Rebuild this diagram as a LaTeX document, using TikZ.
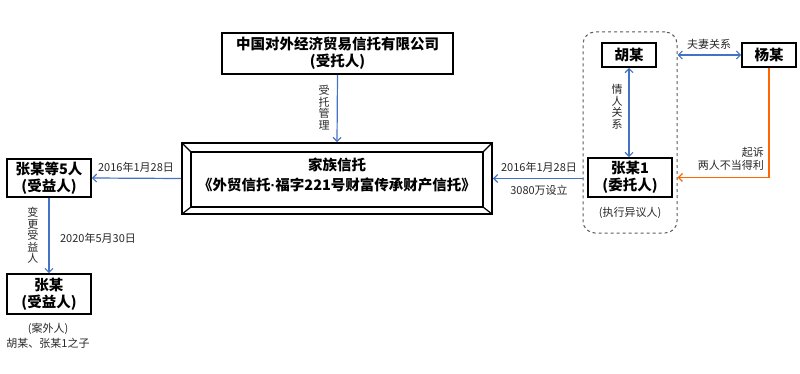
\documentclass[tikz,border=0pt]{standalone}
\usepackage{fontspec}
\setmainfont{Noto Sans CJK SC}
\newfontfamily\latinfont{Liberation Sans}
\usetikzlibrary{arrows.meta}
\definecolor{arrblue}{RGB}{68,114,196}
\definecolor{arrorange}{RGB}{255,102,0}
\definecolor{dashgray}{RGB}{90,90,90}
\definecolor{txtgray}{RGB}{40,40,40}
\tikzset{
  partybox/.style={draw=black, line width=1.6pt, fill=white, align=center, inner sep=0pt,
    font=\fontsize{14.5}{17}\selectfont\bfseries},
  lbl/.style={font=\fontsize{11}{13}\selectfont, text=txtgray, inner sep=0pt, align=center},
  vlbl/.style={font=\fontsize{11}{11.5}\selectfont, text=txtgray, inner sep=0pt, align=center, text width=12pt},
  bluearr/.style={draw=arrblue, line width=1.2pt, -{Straight Barb[length=4pt,width=8pt]}},
  bluedbl/.style={draw=arrblue, line width=1.2pt, {Straight Barb[length=4pt,width=8pt]}-{Straight Barb[length=4pt,width=8pt]}},
  orangearr/.style={draw=arrorange, line width=1.4pt, -{Straight Barb[length=4pt,width=8pt]}},
}
\begin{document}
\begin{tikzpicture}[x=1pt,y=-1pt]
\useasboundingbox (0,0) rectangle (800,374);
% group dashed box
\node[draw=dashgray, dashed, line width=1pt, rounded corners=12pt, minimum width=94pt, minimum height=201pt, inner sep=0pt] (grp) at (630,132.5) {};
% nodes
\node[partybox, minimum width=231pt, minimum height=41pt] (top) at (337.5,53.5) {中国对外经济贸易信托有限公司\\(受托人)};
\node[draw=black, line width=1.6pt, minimum width=310pt, minimum height=71pt, inner sep=0pt] (trust) at (337,178.5) {};
\draw[line width=1.6pt] (191,152) rectangle (483,207);
\draw[line width=1.2pt] (182,143) -- (191,152) (492,143) -- (483,152) (182,214) -- (191,207) (492,214) -- (483,207);
\node[font=\fontsize{14.5}{20}\selectfont\bfseries, align=center, inner sep=0pt] (trusttxt) at (337,175) {家族信托\\《外贸信托{\latinfont\bfseries ·}福字221号财富传承财产信托》};
\node[partybox, minimum width=54pt, minimum height=24pt] (hu) at (629,55) {胡某};
\node[partybox, minimum width=54pt, minimum height=24pt] (yang) at (769,55) {杨某};
\node[partybox, minimum width=84pt, minimum height=39pt] (z1) at (630,177.5) {张某1\\(委托人)};
\node[lbl] (exec) at (630,213) {(执行异议人)};
\node[partybox, minimum width=84pt, minimum height=38pt] (z5) at (49,178) {张某等5人\\(受益人)};
\node[partybox, minimum width=84pt, minimum height=40pt] (zz) at (49,294) {张某\\(受益人)};
\node[lbl] (note1) at (48,329) {(案外人)};
\node[lbl] (note2) at (48,343) {胡某、张某1之子};
% connectors
\draw[bluearr] (top.south) -- (trust.north);
\node[vlbl] (l1) at (324,107.5) {受\\托\\管\\理};
\draw[bluearr] (grp.west |- trust.east) -- (trust.east);
\node[lbl] (l2) at (539,167) {2016年1月28日};
\node[lbl] (l3) at (539,190) {3080万设立};
\draw[bluearr] (trust.west) -- (z5.east);
\node[lbl] (l4) at (136,167) {2016年1月28日};
\draw[bluearr] (z5.south) -- (zz.north);
\node[vlbl] (l5) at (33,235.5) {变\\更\\受\\益\\人};
\node[lbl] (l6) at (98,238) {2020年5月30日};
\draw[bluedbl] (hu.south) -- (hu.south |- z1.north);
\node[vlbl] (l7) at (617,107) {情\\人\\关\\系};
\draw[bluedbl] (grp.east |- hu.east) -- (yang.west);
\node[lbl] (l8) at (709,44) {夫妻关系};
\draw[orangearr] (yang.south) |- (grp.east |- z1.east);
\node[lbl, anchor=east] (l9) at (764,152) {起诉};
\node[lbl, anchor=east] (l10) at (764,165) {两人不当得利};
\end{tikzpicture}
\end{document}
